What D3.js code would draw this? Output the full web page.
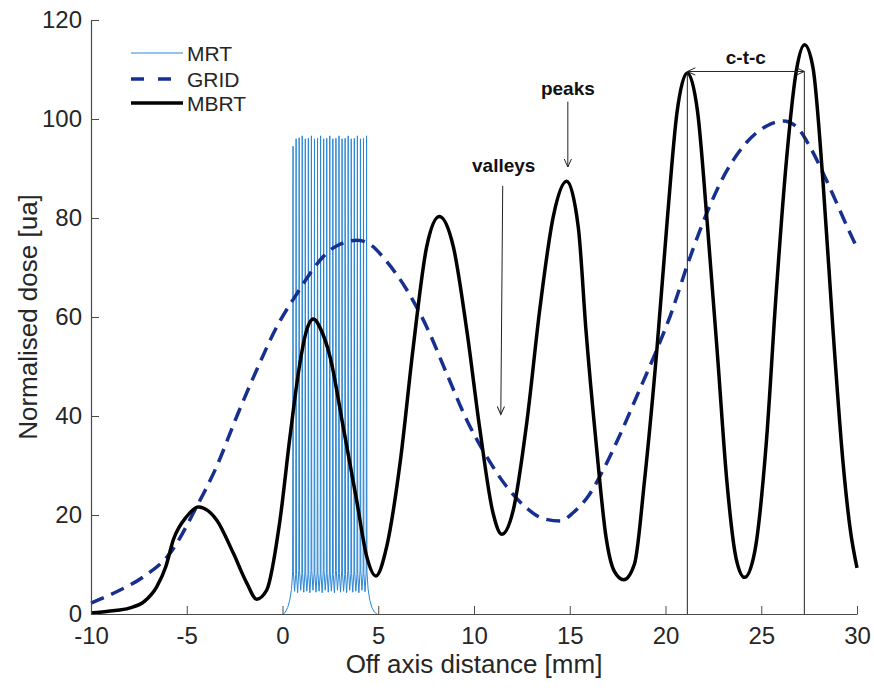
<!DOCTYPE html>
<html>
<head>
<meta charset="utf-8">
<script src="https://cdn.jsdelivr.net/npm/d3@7"></script>
<style>
  body { margin: 0; background: #fff; }
  text { font-family: "Liberation Sans", Arial, sans-serif; }
</style>
</head>
<body>
<svg id="chart" width="874" height="690"></svg>
<script>
// ---------------- DATA ----------------
const xTicks = [-10, -5, 0, 5, 10, 15, 20, 25, 30];
const yTicks = [0, 20, 40, 60, 80, 100, 120];
const seriesNames = ["MRT", "GRID", "MBRT"];

// MBRT (black solid)
const mbrtX = [-10, -9, -8, -7.2, -6.57, -6.1, -5.7, -5.0, -4.4, -3.44, -2.57, -1.87, -1.35, -0.83, -0.13, 0.39, 0.91, 1.2, 1.61, 2.0, 2.48, 3.17, 3.87, 4.4, 4.88, 5.44, 6.14, 6.83, 7.53, 8.19, 8.92, 9.62, 10.31, 11.0, 11.45, 12.05, 12.75, 13.45, 14.14, 14.84, 15.45, 15.85, 16.38, 16.9, 17.33, 17.82, 18.38, 18.9, 19.55, 20.1, 20.6, 21.14, 21.68, 22.18, 22.72, 23.2, 23.7, 24.13, 24.65, 25.26, 25.78, 26.31, 26.83, 27.26, 27.7, 28.22, 28.75, 29.27, 29.65, 30];
const mbrtY = [0.2, 0.6, 1.2, 2.6, 5.5, 9.5, 15, 19.7, 21.6, 19, 12.3, 6.3, 3.0, 4.8, 19, 35.8, 50.7, 56.5, 59.6, 57.5, 52, 37.8, 23, 11.6, 7.7, 13.6, 30.5, 54, 74.2, 80.3, 74.2, 57.4, 37.2, 20.3, 16.1, 21, 38.5, 62, 80.3, 87.4, 78, 57.2, 34.4, 15.4, 8.6, 6.9, 10.1, 26.8, 53.4, 80, 101.3, 109.3, 101.3, 79, 52, 27, 11, 7.4, 12.4, 34.4, 64.8, 91.4, 109.7, 115, 110.4, 87.6, 57.2, 30.6, 17, 9.3];

// GRID (dashed navy)
const gridX = [-10, -8.66, -7.27, -5.87, -4.48, -3.44, -2.39, -1.35, -0.3, 0.8, 1.44, 2.3, 3.0, 3.9, 4.6, 5.44, 6.49, 7.53, 8.57, 9.62, 10.66, 11.71, 12.75, 13.6, 14.5, 15.19, 16.0, 16.8, 17.6, 18.5, 19.45, 20.32, 21.14, 21.8, 22.32, 22.85, 23.54, 24.24, 25.28, 26.15, 26.85, 27.54, 28.24, 28.94, 29.63, 30];
const gridY = [2.2, 4.5, 7.5, 12.3, 21.7, 29.8, 39.9, 49.3, 58, 65, 68.8, 72.9, 74.7, 75.5, 74.6, 71.2, 65.5, 58, 48.6, 39.2, 31.8, 25.7, 21.4, 19.3, 18.8, 20.5, 24, 29.5, 36, 44, 52.5, 61, 70.5, 77.5, 82.5, 87, 91.7, 95.3, 98.6, 99.6, 98.4, 94.4, 89, 83, 77, 74];

// MRT (thin light blue): peak positions, peak heights, valleys between peaks, edge tails
const mrtPeakX = [0.55, 0.71, 0.87, 1.03, 1.19, 1.35, 1.51, 1.67, 1.83, 1.99, 2.15, 2.31, 2.47, 2.63, 2.79, 2.95, 3.11, 3.27, 3.43, 3.59, 3.75, 3.91, 4.07, 4.23, 4.39];
const mrtPeakY = [94.5, 96.0, 96.2, 96.6, 96.0, 96.1, 96.6, 96.0, 96.1, 96.6, 96.0, 96.1, 96.6, 96.0, 96.1, 96.6, 96.0, 96.1, 96.6, 96.0, 96.1, 96.6, 96.0, 96.1, 96.6];
const mrtValleyY = [4.6, 4.3, 4.8, 4.4, 4.6, 4.3, 4.8, 4.4, 4.6, 4.3, 4.8, 4.4, 4.6, 4.3, 4.8, 4.4, 4.6, 4.3, 4.8, 4.4, 4.6, 4.3, 4.8, 4.5];
const mrtShoulderY = [8.5, 8.0, 8.8, 8.2, 8.5, 8.0, 8.8, 8.2, 8.5, 8.0, 8.8, 8.2, 8.5, 8.0, 8.8, 8.2, 8.5, 8.0, 8.8, 8.2, 8.5, 8.0, 8.8, 8.2, 8.5];
const mrtLeftTailX = [0.05, 0.15, 0.27, 0.38, 0.47];
const mrtLeftTailY = [0.0, 0.4, 1.3, 2.8, 5.0];
const mrtRightTailX = [4.47, 4.56, 4.67, 4.8, 4.93];
const mrtRightTailY = [5.0, 2.8, 1.3, 0.4, 0.0];

// Annotations (data units)
const ctcX = [21.14, 27.25];
const ctcLevel = 109.6;
const ctcLabel = "c-t-c";
const peaksArrow = [14.9, 103.5, 14.9, 90.3];
const valleysArrow = [11.5, 86.5, 11.4, 40.3];
const annotLabels = ["peaks", "valleys"];

// ---------------- CHART ----------------
const svg = d3.select("#chart");
const x = d3.scaleLinear().domain([-10, 30]).range([91, 857]);
const y = d3.scaleLinear().domain([0, 120]).range([614, 20]);

const axisColor = "#4a4a4a";
const textColor = "#262626";

// markers
const defs = svg.append("defs");
defs.append("marker")
  .attr("id", "arr").attr("viewBox", "-10 -6 12 12")
  .attr("refX", 0).attr("refY", 0)
  .attr("markerWidth", 12).attr("markerHeight", 12)
  .attr("markerUnits", "userSpaceOnUse")
  .attr("orient", "auto-start-reverse")
  .append("path").attr("d", "M-8,-3.6 L0,0 L-8,3.6")
  .attr("fill", "none").attr("stroke", "#222").attr("stroke-width", 1);

// MRT path
const mrtPts = [];
mrtLeftTailX.forEach((v, i) => mrtPts.push([v, mrtLeftTailY[i]]));
mrtPeakX.forEach((px, i) => {
  mrtPts.push([px - 0.02, mrtShoulderY[i]]);
  mrtPts.push([px, mrtPeakY[i]]);
  mrtPts.push([px + 0.02, mrtShoulderY[i]]);
  if (i < mrtValleyY.length) mrtPts.push([(px + mrtPeakX[i + 1]) / 2, mrtValleyY[i]]);
});
mrtRightTailX.forEach((v, i) => mrtPts.push([v, mrtRightTailY[i]]));

const lineLinear = d3.line().x(d => x(d[0])).y(d => y(d[1]));
const lineSmooth = d3.line().x(d => x(d[0])).y(d => y(d[1])).curve(d3.curveMonotoneX);

svg.append("path").datum(mrtPts).attr("d", lineLinear)
  .attr("fill", "none").attr("stroke", "#2a86d4").attr("stroke-width", 1);

svg.append("path").datum(gridX.map((v, i) => [v, gridY[i]])).attr("d", lineSmooth)
  .attr("fill", "none").attr("stroke", "#172f8f").attr("stroke-width", 3.5)
  .attr("stroke-dasharray", "14,8");

svg.append("path").datum(mbrtX.map((v, i) => [v, mbrtY[i]])).attr("d", lineSmooth)
  .attr("fill", "none").attr("stroke", "#000").attr("stroke-width", 3.5)
  .attr("stroke-linejoin", "round");

// axes
const fmt = d => String(d);
const xAxis = svg.append("g").attr("transform", `translate(0,${y(0)})`)
  .call(d3.axisBottom(x).tickValues(xTicks).tickFormat(fmt).tickSizeInner(-8).tickSizeOuter(0).tickPadding(13));
const yAxis = svg.append("g").attr("transform", `translate(${x(-10)},0)`)
  .call(d3.axisLeft(y).tickValues(yTicks).tickFormat(fmt).tickSizeInner(-8).tickSizeOuter(0).tickPadding(9));
[xAxis, yAxis].forEach(g => {
  g.select(".domain").attr("stroke", axisColor).attr("stroke-width", 1.2);
  g.selectAll(".tick line").attr("stroke", axisColor).attr("stroke-width", 1);
  g.selectAll(".tick text").attr("fill", textColor).style("font-size", "24px")
    .style("font-family", "'Liberation Sans', Arial, sans-serif");
});

// axis titles
svg.append("text").attr("x", (x(-10) + x(30)) / 2).attr("y", 673)
  .attr("text-anchor", "middle").attr("fill", textColor).style("font-size", "26px")
  .text("Off axis distance [mm]");
svg.append("text").attr("transform", `translate(37,${(y(0) + y(120)) / 2}) rotate(-90)`)
  .attr("text-anchor", "middle").attr("fill", textColor).style("font-size", "26px")
  .text("Normalised dose [ua]");

// annotations
const ann = svg.append("g").attr("stroke", "#222").attr("stroke-width", 1).attr("fill", "none");
ctcX.forEach(v => {
  ann.append("line").attr("x1", x(v)).attr("x2", x(v)).attr("y1", y(0)).attr("y2", y(ctcLevel));
});
ann.append("line").attr("x1", x(ctcX[0])).attr("x2", x(ctcX[1]))
  .attr("y1", y(ctcLevel)).attr("y2", y(ctcLevel))
  .attr("marker-start", "url(#arr)").attr("marker-end", "url(#arr)");
[peaksArrow, valleysArrow].forEach(a => {
  ann.append("line").attr("x1", x(a[0])).attr("y1", y(a[1])).attr("x2", x(a[2])).attr("y2", y(a[3]))
    .attr("marker-end", "url(#arr)");
});

function boldLabel(t, cx, by) {
  svg.append("text").attr("x", cx).attr("y", by).attr("text-anchor", "middle")
    .attr("fill", "#111").style("font-size", "19px").style("font-weight", "bold").text(t);
}
boldLabel(ctcLabel, x((ctcX[0] + ctcX[1]) / 2), y(ctcLevel) - 7);
boldLabel(annotLabels[0], x(peaksArrow[0]), y(peaksArrow[1]) - 7);
boldLabel(annotLabels[1], x(valleysArrow[0]) + 1, y(valleysArrow[1]) - 14);

// legend
const legend = svg.append("g");
const legY = [53, 79, 103];
const legStyles = [
  { stroke: "#2a86d4", w: 1, dash: null },
  { stroke: "#172f8f", w: 3.5, dash: "13,14" },
  { stroke: "#000", w: 3.5, dash: null }
];
seriesNames.forEach((n, i) => {
  const s = legStyles[i];
  const l = legend.append("line").attr("x1", 131).attr("x2", 183).attr("y1", legY[i]).attr("y2", legY[i])
    .attr("stroke", s.stroke).attr("stroke-width", s.w);
  if (s.dash) l.attr("stroke-dasharray", s.dash);
  legend.append("text").attr("x", 187).attr("y", legY[i] + 7.5).attr("fill", textColor)
    .style("font-size", "21px").text(n);
});
</script>
</body>
</html>
